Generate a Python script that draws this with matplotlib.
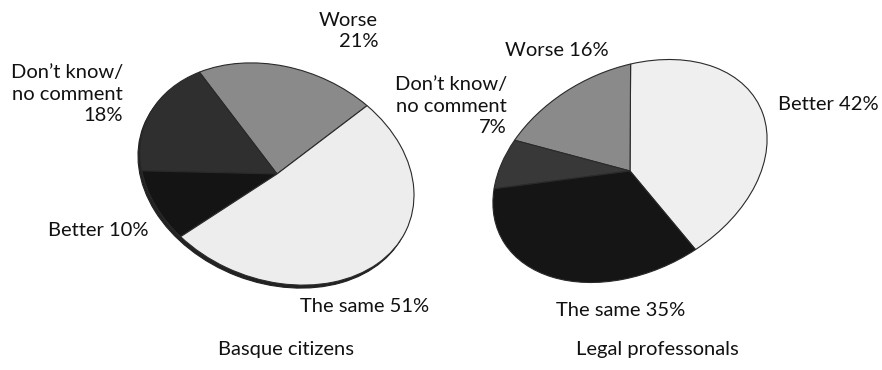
import matplotlib
matplotlib.use("Agg")
import matplotlib.pyplot as plt
from matplotlib.transforms import Affine2D
from matplotlib.patches import Ellipse

# survey answers, counter-clockwise from the start angle
basque_labels = ["Worse", "Don't know/no comment", "Better", "The same"]
basque_values = [21, 18, 10, 51]
basque_colors = ["#8a8a8a", "#2f2f2f", "#141414", "#ededed"]

legal_labels = ["Better", "Worse", "Don't know/no comment", "The same"]
legal_values = [42, 16, 7, 35]
legal_colors = ["#efefef", "#8a8a8a", "#383838", "#151515"]

W, H = 882, 370
plt.rcParams['font.family'] = ['Lato', 'DejaVu Sans']

fig = plt.figure(figsize=(W / 100, H / 100), dpi=100)
ax = fig.add_axes([0, 0, 1, 1])


def tilted_pie(values, colors, start, cx, cy, a, b, tilt, rim=False):
    # ordinary unit pie, then squashed and turned into a tilted ellipse
    wedges, _ = ax.pie(values, colors=colors, startangle=start, counterclock=True,
                       radius=1, wedgeprops=dict(edgecolor="#2a2a2a", linewidth=0.8))
    tr = Affine2D().scale(a, b).rotate_deg(tilt).translate(cx, H - cy) + ax.transData
    for w in wedges:
        w.set_transform(tr)
        w.set_zorder(3)
    if rim:
        e = Ellipse((cx - 2, H - cy - 3), 2 * a, 2 * b, angle=tilt,
                    facecolor="#222222", edgecolor="#222222", lw=0.8, zorder=2)
        ax.add_patch(e)


tilted_pie(basque_values, basque_colors, 65, 277, 174, 141, 106, -21, rim=True)
tilted_pie(legal_values, legal_colors, -81, 630, 171, 145, 101, 27)

ax.set_xlim(0, W)
ax.set_ylim(0, H)
ax.set_aspect("auto")
ax.axis("off")

fs = 14.5
def label(x, y, s, ha="left"):
    ax.text(x, H - y, s, ha=ha, va="center", fontsize=fs, color="#111111",
            linespacing=1.3, zorder=5)

# left pie
label(378, 31, "Worse\n21%", ha="right")
label(123, 94, "Don\u2019t know/\nno comment\n18%", ha="right")
label(48, 230, "Better 10%")
label(300, 307, "The same 51%")
label(218, 350, "Basque citizens")

# right pie
label(505, 50, "Worse 16%")
label(507, 106, "Don\u2019t know/\nno comment\n7%", ha="right")
label(778, 105, "Better 42%")
label(556, 310, "The same 35%")
label(576, 350, "Legal professonals")

fig.savefig("out.png", dpi=100, facecolor="white")
